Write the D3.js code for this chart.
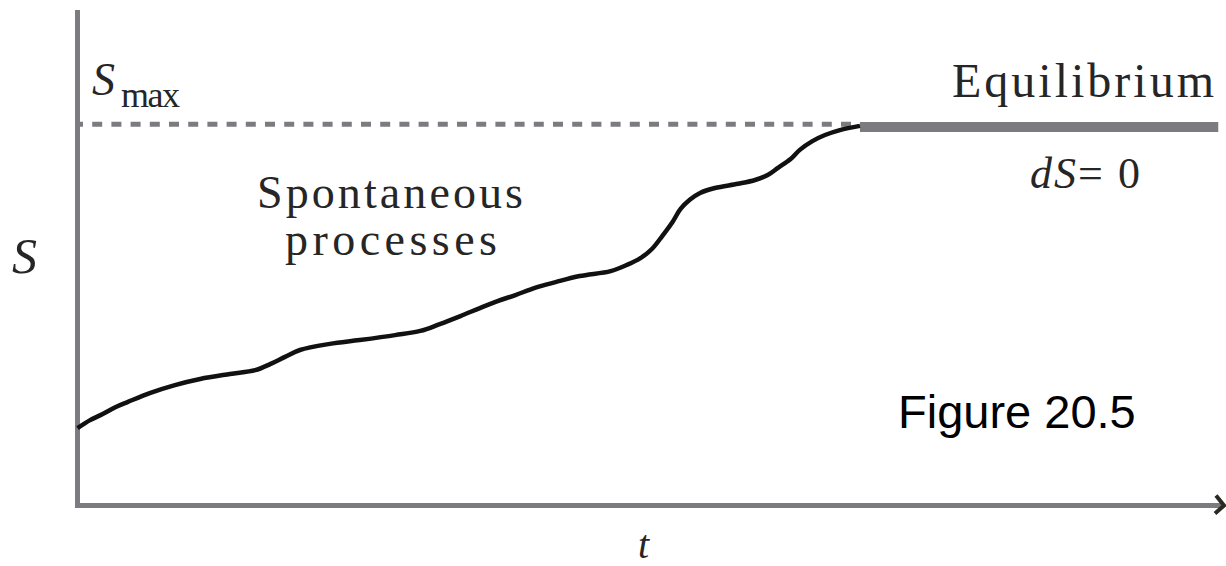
<!DOCTYPE html>
<html>
<head>
<meta charset="utf-8">
<script src="https://cdn.jsdelivr.net/npm/d3@7"></script>
<style>
  body { margin: 0; background: #fff; }
  svg { display: block; }
  .serif { font-family: "Liberation Serif", "DejaVu Serif", serif; fill: #262626; }
</style>
</head>
<body>
<svg width="1226" height="566"></svg>
<script>
// time (arbitrary units) and entropy S (arbitrary units, Smax = 100)
const tValues = [0, 1.1, 2.2, 3.3, 4.4, 6.3, 8.5, 10.7, 13.3, 15.5, 16.8, 18.1, 19.4, 22.0, 24.6,
  27.7, 29.9, 31.6, 33.4, 35.1, 36.7, 38.2, 39.9, 41.7, 43.8, 46.5, 47.9, 49.1, 50.1, 51.0,
  51.9, 52.6, 53.4, 54.3, 55.6, 57.6, 59.1, 60.2, 61.1, 62.2, 63.0, 64.1, 65.2, 66.5, 68.25];
const sValues = [20.3, 22.4, 24.0, 25.8, 27.2, 29.5, 31.6, 33.2, 34.5, 35.5, 37.1, 39.0, 40.8, 42.4, 43.4,
  44.7, 45.8, 47.6, 49.7, 51.8, 53.7, 55.2, 57.1, 58.6, 60.2, 61.5, 63.1, 64.9, 67.3, 70.7,
  74.4, 77.8, 80.2, 82.0, 83.3, 84.4, 85.4, 86.7, 88.6, 90.9, 93.3, 95.6, 97.2, 98.5, 99.6];
const sMax = 100;
const eqLevel = 99.3;
const eqStart = 68.25, eqEnd = 99.5;
const tDomain = [0, 100];
const sDomain = [0, 130];

const svg = d3.select("svg");

const x = d3.scaleLinear().domain(tDomain).range([77.5, 1224]);
const y = d3.scaleLinear().domain(sDomain).range([505.5, 10]);

const axisColor = "#7c7b80";

// Smax dashed line
svg.append("line")
    .attr("x1", x(0) + 2.5).attr("x2", x(eqStart))
    .attr("y1", y(sMax)).attr("y2", y(sMax))
    .attr("stroke", axisColor)
    .attr("stroke-width", 5)
    .attr("stroke-dasharray", "10,9.2")
    .attr("stroke-dashoffset", 7);

// equilibrium plateau
svg.append("line")
    .attr("x1", x(eqStart)).attr("x2", x(eqEnd))
    .attr("y1", y(eqLevel)).attr("y2", y(eqLevel))
    .attr("stroke", axisColor)
    .attr("stroke-width", 10);

// axes
svg.append("line")
    .attr("x1", x(0)).attr("x2", x(0))
    .attr("y1", y(sDomain[1])).attr("y2", y(0) + 2.5)
    .attr("stroke", axisColor).attr("stroke-width", 5);

svg.append("line")
    .attr("x1", x(0) - 2.5).attr("x2", x(tDomain[1]))
    .attr("y1", y(0)).attr("y2", y(0))
    .attr("stroke", axisColor).attr("stroke-width", 5);

// arrow head at the end of the t axis
svg.append("path")
    .attr("d", `M${x(tDomain[1]) - 8},${y(0) - 10} L${x(tDomain[1])},${y(0)} L${x(tDomain[1]) - 9},${y(0) + 8}`)
    .attr("fill", "none")
    .attr("stroke", "#2a2a22")
    .attr("stroke-width", 4);

// entropy curve
const line = d3.line()
    .x((d, i) => x(tValues[i]))
    .y(d => y(d))
    .curve(d3.curveCatmullRom.alpha(0.5));

svg.append("path")
    .datum(sValues)
    .attr("d", line)
    .attr("fill", "none")
    .attr("stroke", "#111")
    .attr("stroke-width", 4.5)
    .attr("stroke-linejoin", "round");

// labels
svg.append("text").attr("class", "serif")
    .attr("x", 12).attr("y", 273)
    .attr("font-size", 50).attr("font-style", "italic")
    .text("S");

svg.append("text").attr("class", "serif")
    .attr("x", 638).attr("y", 558)
    .attr("font-size", 40).attr("font-style", "italic")
    .text("t");

svg.append("text").attr("class", "serif")
    .attr("x", 92).attr("y", 95)
    .attr("font-size", 46).attr("font-style", "italic")
    .text("S");
svg.append("text").attr("class", "serif")
    .attr("x", 121).attr("y", 107)
    .attr("font-size", 36)
    .attr("textLength", 59).attr("lengthAdjust", "spacing")
    .text("max");

svg.append("text").attr("class", "serif")
    .attr("x", 257).attr("y", 208)
    .attr("font-size", 46)
    .attr("textLength", 266).attr("lengthAdjust", "spacing")
    .text("Spontaneous");

svg.append("text").attr("class", "serif")
    .attr("x", 285).attr("y", 255)
    .attr("font-size", 46)
    .attr("textLength", 212).attr("lengthAdjust", "spacing")
    .text("processes");

svg.append("text").attr("class", "serif")
    .attr("x", 952).attr("y", 97)
    .attr("font-size", 48)
    .attr("textLength", 262).attr("lengthAdjust", "spacing")
    .text("Equilibrium");

const ds = svg.append("text").attr("class", "serif")
    .attr("x", 1030).attr("y", 188)
    .attr("font-size", 44)
    .attr("textLength", 110).attr("lengthAdjust", "spacing");
ds.append("tspan").attr("font-style", "italic").text("dS");
ds.append("tspan").text("= 0");

svg.append("text")
    .attr("x", 898).attr("y", 428)
    .attr("font-family", "Liberation Sans, Arial, sans-serif")
    .attr("font-size", 47)
    .attr("fill", "#000")
    .text("Figure 20.5");
</script>
</body>
</html>
